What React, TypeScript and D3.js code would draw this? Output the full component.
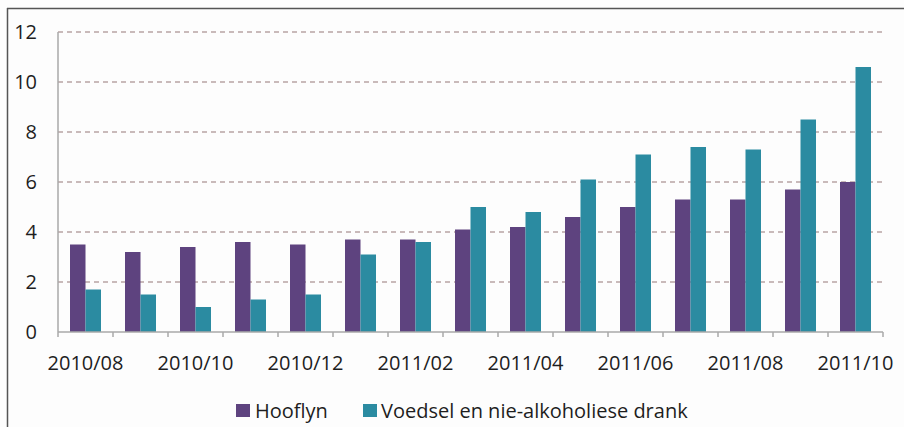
import React from "react";
import * as d3 from "d3";

const months = ["2010/08","2010/09","2010/10","2010/11","2010/12","2011/01","2011/02","2011/03","2011/04","2011/05","2011/06","2011/07","2011/08","2011/09","2011/10"];
const hooflyn = [3.5,3.2,3.4,3.6,3.5,3.7,3.7,4.1,4.2,4.6,5.0,5.3,5.3,5.7,6.0];
const voedsel = [1.7,1.5,1.0,1.3,1.5,3.1,3.6,5.0,4.8,6.1,7.1,7.4,7.3,8.5,10.6];
const seriesNames = ["Hooflyn","Voedsel en nie-alkoholiese drank"];
const yTicks = [0,2,4,6,8,10,12];

const W = 904, H = 427;
const left = 58, right = 883, top = 32, bottom = 332;
const colors = ["#5e437f", "#2b8ba1"];
const font = "'Open Sans', sans-serif";
const textColor = "#1e1e1e";

export default function App() {
  const x = d3.scaleBand<string>().domain(months).range([left, right]).paddingInner(0).paddingOuter(0);
  const y = d3.scaleLinear().domain([0, 12]).range([bottom, top]);
  const bw = x.bandwidth();
  const barW = 15.5;
  const series = [hooflyn, voedsel];
  return (
    <svg width={W} height={H} style={{ position: "absolute", left: 0, top: 0, display: "block" }}>
      <rect x={0} y={0} width={W} height={H} fill="#fdfdfd" />
      <line x1={7} y1={8.5} x2={W} y2={8.5} stroke="#555" strokeWidth={1.5} />
      <line x1={7.5} y1={8} x2={7.5} y2={H} stroke="#555" strokeWidth={1.5} />
      {yTicks.filter(t => t > 0).map(t => (
        <line key={"g" + t} x1={left} x2={right} y1={y(t)} y2={y(t)} stroke="#b8a4a4" strokeWidth={1.4} strokeDasharray="5,4" />
      ))}
      {series.map((vals, si) => vals.map((v, i) => {
        const cx = (x(months[i]) as number) + bw / 2;
        return (
          <rect key={si + "-" + i} x={cx - barW + si * barW} y={y(v)} width={barW} height={y(0) - y(v)} fill={colors[si]} />
        );
      }))}
      <line x1={left} x2={left} y1={top} y2={bottom} stroke="#a8a8a8" strokeWidth={1.5} />
      <line x1={left} x2={right} y1={bottom} y2={bottom} stroke="#a8a8a8" strokeWidth={1.5} />
      {months.map((m, i) => (
        <line key={"t" + i} x1={x(m) as number} x2={x(m) as number} y1={bottom} y2={bottom + 5} stroke="#a8a8a8" strokeWidth={1.5} />
      ))}
      <line x1={right} x2={right} y1={bottom} y2={bottom + 5} stroke="#a8a8a8" strokeWidth={1.5} />
      {yTicks.map(t => (
        <text key={"y" + t} x={37} y={y(t)} dy="0.35em" textAnchor="end" fontFamily={font} fontSize={20} fill={textColor}>{t}</text>
      ))}
      {months.map((m, i) => i % 2 === 0 ? (
        <text key={"x" + i} x={(x(m) as number) + bw / 2} y={363} dy="0.35em" textAnchor="middle" fontFamily={font} fontSize={20} fill={textColor}>{m}</text>
      ) : null)}
      <rect x={236} y={404} width={14} height={13} fill={colors[0]} />
      <text x={255} y={410.5} dy="0.35em" fontFamily={font} fontSize={20} fill={textColor}>{seriesNames[0]}</text>
      <rect x={363} y={404} width={14} height={13} fill={colors[1]} />
      <text x={381} y={410.5} dy="0.35em" fontFamily={font} fontSize={20} fill={textColor}>{seriesNames[1]}</text>
    </svg>
  );
}
